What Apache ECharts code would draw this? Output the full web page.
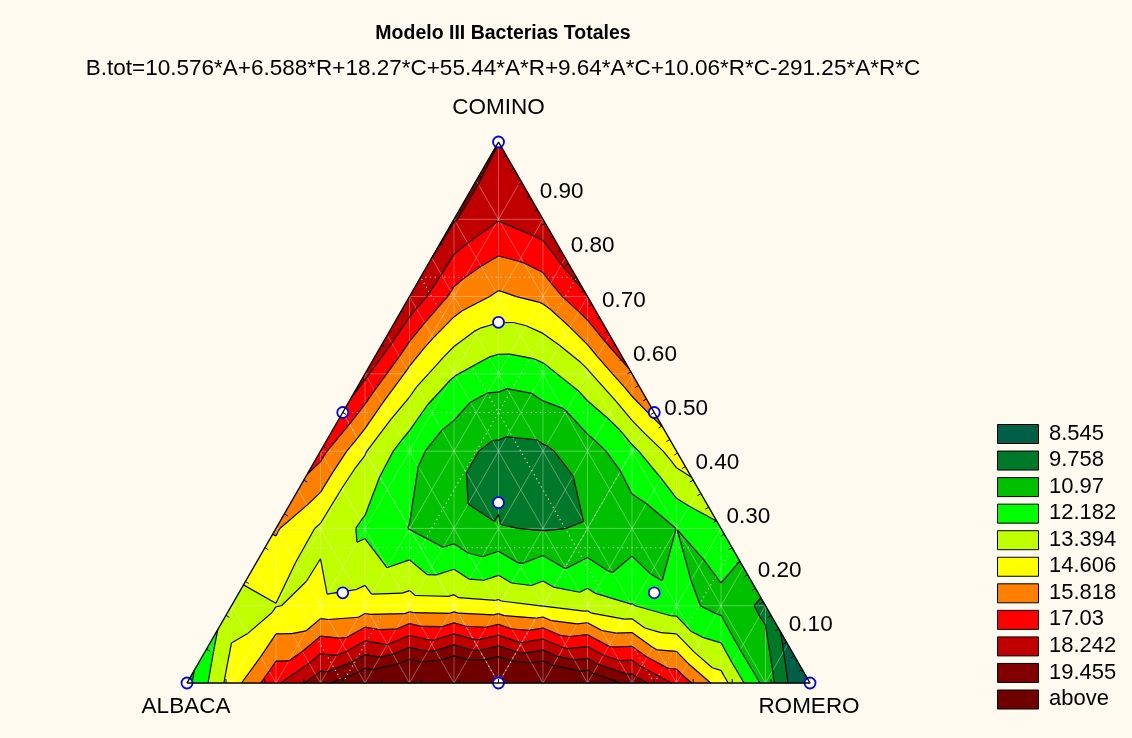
<!DOCTYPE html>
<html><head><meta charset="utf-8">
<script src="https://cdn.jsdelivr.net/npm/echarts@6/dist/echarts.min.js"></script>
<style>html,body{margin:0;padding:0;background:#FFFAF0}#c{width:1132px;height:738px}</style>
</head><body><div id="c"></div>
<script>
// ---------------- data ----------------
const chartTitle = 'Modelo III Bacterias Totales';
const modelText = 'B.tot=10.576*A+6.588*R+18.27*C+55.44*A*R+9.64*A*C+10.06*R*C-291.25*A*R*C';
const componentNames = ['ALBACA', 'ROMERO', 'COMINO'];
const levelLabels = ['8.545', '9.758', '10.97', '12.182', '13.394', '14.606', '15.818', '17.03', '18.242', '19.455', 'above'];
const levelBounds = [8.545, 9.758, 10.97, 12.182, 13.394, 14.606, 15.818, 17.03, 18.242, 19.455];
const cominoTickLabels = ['0.10', '0.20', '0.30', '0.40', '0.50', '0.60', '0.70', '0.80', '0.90'];
const cominoTickValues = [0.1, 0.2, 0.3, 0.4, 0.5, 0.6, 0.7, 0.8, 0.9];
// design points [ALBACA, ROMERO, COMINO]
const designPoints = [
  [1, 0, 0], [0, 1, 0], [0, 0, 1],
  [0.5, 0.5, 0], [0.5, 0, 0.5], [0, 0.5, 0.5],
  [1/3, 1/3, 1/3],
  [2/3, 1/6, 1/6], [1/6, 2/3, 1/6], [1/6, 1/6, 2/3]
];
// B.tot surface on the 14-step mixture grid: row k -> COMINO = k/14, entry j -> ROMERO = j/14, ALBACA = rest
const surfaceRows = [
  [10.58, 13.97, 16.79, 19.06, 20.75, 21.88, 22.44, 22.44, 21.87, 20.74, 19.04, 16.78, 13.95, 10.55, 6.59],
  [11.76, 13.60, 15.09, 16.22, 17.00, 17.42, 17.49, 17.21, 16.57, 15.58, 14.24, 12.54, 10.49, 8.09],
  [12.86, 13.35, 13.71, 13.92, 13.99, 13.92, 13.71, 13.36, 12.87, 12.24, 11.46, 10.55, 9.49],
  [13.85, 13.21, 12.65, 12.16, 11.74, 11.39, 11.11, 10.90, 10.77, 10.70, 10.71, 10.79],
  [14.74, 13.19, 11.92, 10.94, 10.24, 9.82, 9.68, 9.83, 10.26, 10.98, 11.98],
  [15.54, 13.28, 11.52, 10.25, 9.48, 9.21, 9.43, 10.15, 11.36, 13.07],
  [16.23, 13.48, 11.44, 10.11, 9.48, 9.56, 10.35, 11.85, 14.06],
  [16.83, 13.80, 11.69, 10.50, 10.23, 10.88, 12.45, 14.94],
  [17.33, 14.23, 12.27, 11.43, 11.73, 13.16, 15.73],
  [17.74, 14.78, 13.17, 12.90, 13.98, 16.41],
  [18.04, 15.44, 14.40, 14.91, 16.99],
  [18.244, 16.21, 15.95, 17.46],
  [18.35, 17.10, 17.83],
  [18.36, 18.10],
  [18.27]
];

// ---------------- styles ----------------
const levelColors = ['#005F46', '#00782A', '#00C000', '#00FF00', '#C0FF00', '#FFFF00', '#FF8000', '#FF0000', '#C00000', '#800000', '#700000'];
const FONT = '"Liberation Sans", Arial, sans-serif';

// ---------------- geometry helpers ----------------
function toXY(a, r, c) { const s = a + r + c; return [(r + c / 2) / s, c / s]; }
const N = surfaceRows.length - 1;
function valid(k, j) { return k >= 0 && k <= N && j >= 0 && j <= N - k; }
function node(k, j) { return { id: k + '_' + j, x: j / N + k / (2 * N), y: k / N, f: surfaceRows[k][j] }; }
// rectangular cells between even rows, each split into 4 triangles around the odd-row centre node
const triangles = [];
for (let m = 0; 2 * m + 2 <= N; m++) {
  for (let c = m; c <= N - 1 - m; c++) {
    const BL = [2 * m, c - m], BR = [2 * m, c - m + 1], TL = [2 * m + 2, c - m - 1], TR = [2 * m + 2, c - m], CE = [2 * m + 1, c - m];
    [[BL, BR, CE], [BR, TR, CE], [TR, TL, CE], [TL, BL, CE]].forEach(t => {
      if (t.every(p => valid(p[0], p[1]))) triangles.push(t.map(p => node(p[0], p[1])));
    });
  }
}
function clipPoly(poly, level, above) {
  const out = [];
  for (let i = 0; i < poly.length; i++) {
    const P = poly[i], Q = poly[(i + 1) % poly.length];
    const pin = above ? P.f >= level : P.f <= level;
    const qin = above ? Q.f >= level : Q.f <= level;
    if (pin) out.push(P);
    if (pin !== qin) {
      const t = (level - P.f) / (Q.f - P.f);
      out.push({ x: P.x + t * (Q.x - P.x), y: P.y + t * (Q.y - P.y), f: level });
    }
  }
  return out;
}
const bandPolys = [];
triangles.forEach(tri => {
  for (let b = 0; b < levelColors.length; b++) {
    let poly = tri;
    if (b > 0) poly = clipPoly(poly, levelBounds[b - 1], true);
    if (poly.length >= 3 && b < levelBounds.length) poly = clipPoly(poly, levelBounds[b], false);
    if (poly.length >= 3) {
      let cx = 0, cy = 0; poly.forEach(p => { cx += p.x; cy += p.y; });
      bandPolys.push({ band: b, pts: poly.map(p => [p.x, p.y]), c: [cx / poly.length, cy / poly.length] });
    }
  }
});
const contourSegs = [];
triangles.forEach(tri => {
  levelBounds.forEach(L => {
    const pts = [];
    for (let i = 0; i < 3; i++) {
      const P = tri[i], Q = tri[(i + 1) % 3];
      if ((P.f - L) * (Q.f - L) < 0) {
        const t = (L - P.f) / (Q.f - P.f);
        pts.push([P.x + t * (Q.x - P.x), P.y + t * (Q.y - P.y)]);
      }
    }
    if (pts.length === 2) contourSegs.push([pts[0][0], pts[0][1], pts[1][0], pts[1][1]]);
  });
});
// faint mesh = edges of the interpolation triangles
const meshSegs = [];
const seen = {};
triangles.forEach(tri => {
  for (let i = 0; i < 3; i++) {
    const P = tri[i], Q = tri[(i + 1) % 3];
    const key = [P.id, Q.id].sort().join('|');
    if (!seen[key]) { seen[key] = 1; meshSegs.push([P.x, P.y, Q.x, Q.y]); }
  }
});
// dotted ternary grid (every 0.25)
const gridSegs = [];
[0.25, 0.5, 0.75].forEach(v => {
  gridSegs.push([...toXY(1 - v, 0, v), ...toXY(0, 1 - v, v)]);
  gridSegs.push([...toXY(1 - v, v, 0), ...toXY(0, v, 1 - v)]);
  gridSegs.push([...toXY(v, 1 - v, 0), ...toXY(v, 0, 1 - v)]);
});
// edge ticks
const tickItems = [];
for (let i = 1; i < 16; i++) { const t = i / 16; tickItems.push([...toXY(1 - t, t, 0), 0]); tickItems.push([...toXY(1 - t, 0, t), 1]); }
for (let i = 1; i < 40; i++) { const t = i / 40; tickItems.push([...toXY(0, 1 - t, t), 2]); }

const vA = toXY(1, 0, 0), vR = toXY(0, 1, 0), vC = toXY(0, 0, 1);

// ---------------- chart ----------------
const chart = echarts.init(document.getElementById('c'), null, { renderer: 'canvas' });
const dataOf = { grid: gridSegs, mesh: meshSegs, contour: contourSegs };
function segRender(stroke, width, dash) {
  return function (params, api) {
    const s = dataOf[params.seriesId][params.dataIndex];
    const p1 = api.coord([s[0], s[1]]), p2 = api.coord([s[2], s[3]]);
    return { type: 'line', shape: { x1: p1[0], y1: p1[1], x2: p2[0], y2: p2[1] },
      style: { stroke: stroke, lineWidth: width, lineDash: dash || null, fill: null } };
  };
}

const legendGraphics = [];
levelLabels.forEach((lab, i) => {
  const top = 424 + i * 26.55;
  legendGraphics.push({ type: 'rect', left: 997, top: top, shape: { width: 41, height: 19 },
    style: { fill: levelColors[i], stroke: '#000', lineWidth: 1 } });
  legendGraphics.push({ type: 'text', left: 1049, top: top - 1.5,
    style: { text: lab, font: '22px ' + FONT, fill: '#000' } });
});

chart.setOption({
  backgroundColor: '#FFFAF0',
  animation: false,
  title: {
    text: chartTitle, subtext: modelText, left: 498, top: 19, textAlign: 'center', itemGap: 13,
    textStyle: { fontFamily: FONT, fontSize: 19.5, fontWeight: 'bold', color: '#000' },
    subtextStyle: { fontFamily: FONT, fontSize: 22.5, color: '#000' }
  },
  grid: { left: 187, top: 142, width: 623, height: 541, show: false },
  xAxis: { type: 'value', min: 0, max: 1, show: false },
  yAxis: { type: 'value', min: 0, max: 1, show: false },
  graphic: legendGraphics,
  series: [
    { type: 'custom', name: 'bands', z: 1, clip: false,
      data: bandPolys.map((p, i) => [p.c[0], p.c[1], i]), encode: { x: 0, y: 1 },
      renderItem: function (params, api) {
        const p = bandPolys[params.dataIndex];
        const col = levelColors[p.band];
        return { type: 'polygon', shape: { points: p.pts.map(q => api.coord(q)) },
          style: { fill: col, stroke: col, lineWidth: 0.7 } };
      } },
    { type: 'custom', id: 'mesh', z: 2, clip: false, silent: true,
      data: meshSegs.map(s => [s[0], s[1]]), encode: { x: 0, y: 1 },
      renderItem: segRender('rgba(255,255,255,0.3)', 1) },
    { type: 'custom', id: 'grid', z: 2, clip: false, silent: true,
      data: gridSegs.map(s => [s[0], s[1]]), encode: { x: 0, y: 1 },
      renderItem: segRender('rgba(225,225,225,0.9)', 1.2, [1.2, 3.5]) },
    { type: 'custom', id: 'contour', z: 3, clip: false, silent: true,
      data: contourSegs.map(s => [s[0], s[1]]), encode: { x: 0, y: 1 },
      renderItem: segRender('#000', 1.2) },
    { type: 'scatter', z: 4, symbol: 'circle', symbolSize: 11,
      data: designPoints.map(p => toXY(p[0], p[1], p[2])),
      itemStyle: { color: '#FFFFFF', borderColor: '#0000FF', borderWidth: 1.8, opacity: 1 } },
    { type: 'line', z: 5, symbol: 'none', silent: true, clip: false,
      data: [vA, vR, vC, vA], lineStyle: { color: '#000', width: 1.5 } },
    { type: 'custom', z: 5, clip: false, silent: true,
      data: tickItems, encode: { x: 0, y: 1 },
      renderItem: function (params, api) {
        const t = tickItems[params.dataIndex];
        const p = api.coord([t[0], t[1]]);
        const a = api.coord(vA), r = api.coord(vR), c = api.coord(vC);
        let n;
        if (t[2] === 0) n = [0, -1];
        else {
          const e = t[2] === 1 ? [c[0] - a[0], c[1] - a[1]] : [c[0] - r[0], c[1] - r[1]];
          const L = Math.hypot(e[0], e[1]);
          n = [-e[1] / L, e[0] / L];
          if (t[2] === 1 && n[0] < 0) n = [-n[0], -n[1]];
          if (t[2] === 2 && n[0] > 0) n = [-n[0], -n[1]];
        }
        return { type: 'line', shape: { x1: p[0], y1: p[1], x2: p[0] + 4 * n[0], y2: p[1] + 4 * n[1] },
          style: { stroke: '#000', lineWidth: 1 } };
      } },
    { type: 'custom', z: 6, clip: false, silent: true,
      data: cominoTickValues.map((v, i) => [...toXY(0, 1 - v, v), i]), encode: { x: 0, y: 1 },
      renderItem: function (params, api) {
        const d = cominoTickValues[params.dataIndex];
        const p = api.coord(toXY(0, 1 - d, d));
        return { type: 'text', x: p[0] + 10, y: p[1] - 4,
          style: { text: cominoTickLabels[params.dataIndex], font: '22.5px ' + FONT, fill: '#000', align: 'left', verticalAlign: 'middle' } };
      } },
    { type: 'custom', z: 6, clip: false, silent: true,
      data: [[...vA, 0], [...vR, 1], [...vC, 2]], encode: { x: 0, y: 1 },
      renderItem: function (params, api) {
        const i = params.dataIndex;
        const p = api.coord([vA, vR, vC][i]);
        const dy = i === 2 ? -34 : 24;
        return { type: 'text', x: p[0] - 1 + (i === 2 ? 1 : 0), y: p[1] + dy,
          style: { text: componentNames[i], font: '22.5px ' + FONT, fill: '#000', align: 'center', verticalAlign: 'middle' } };
      } }
  ]
});
</script></body></html>
